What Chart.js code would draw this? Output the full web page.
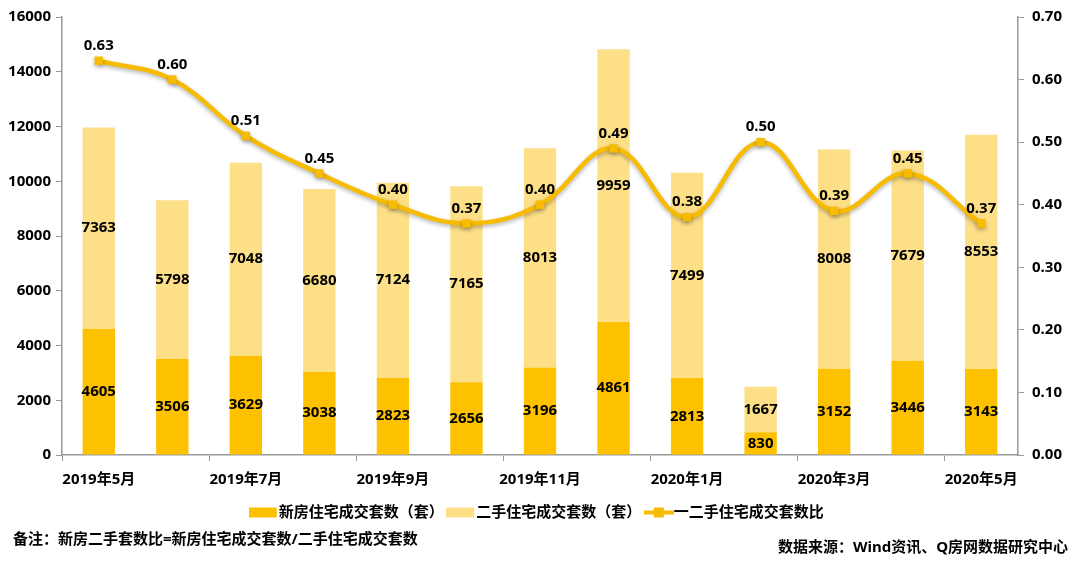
<!DOCTYPE html>
<html>
<head>
<meta charset="utf-8">
<script src="https://cdn.jsdelivr.net/npm/chart.js@4.4.0/dist/chart.umd.min.js"></script>
<style>
body { margin: 0; background: #fff; }
#wrap { position: relative; width: 1080px; height: 561px; }
.note { position: absolute; font: bold 15px "Noto Sans", "Noto Sans CJK SC"; color: #000; white-space: nowrap; }
</style>
</head>
<body>
<div id="wrap">
  <canvas id="c" width="1080" height="561"></canvas>
  <div class="note" style="left:13px;top:527px">备注：新房二手套数比=新房住宅成交套数/二手住宅成交套数</div>
  <div class="note" style="right:12px;top:535px">数据来源：Wind资讯、Q房网数据研究中心</div>
</div>
<script>
// months, 2019-05 .. 2020-05
const months = ['2019年5月', '2019年6月', '2019年7月', '2019年8月', '2019年9月', '2019年10月',
    '2019年11月', '2019年12月', '2020年1月', '2020年2月', '2020年3月', '2020年4月', '2020年5月'];
const newHomes = [4605, 3506, 3629, 3038, 2823, 2656, 3196, 4861, 2813, 830, 3152, 3446, 3143];
const resale = [7363, 5798, 7048, 6680, 7124, 7165, 8013, 9959, 7499, 1667, 8008, 7679, 8553];
const ratio = [0.63, 0.60, 0.51, 0.45, 0.40, 0.37, 0.40, 0.49, 0.38, 0.50, 0.39, 0.45, 0.37];

const DARK = '#FDC100';
const LIGHT = '#FDDF88';
const LINE = '#F7BB00';
const AXIS = '#9a9a9a';
const FONT = '"Noto Sans", "Noto Sans CJK SC"';

// legend swatches
function swatch(draw) {
    const c = document.createElement('canvas');
    c.width = 30; c.height = 12;
    draw(c.getContext('2d'));
    return c;
}
const swDark = swatch(g => { g.fillStyle = DARK; g.fillRect(0, 1, 28, 10); });
const swLight = swatch(g => { g.fillStyle = LIGHT; g.fillRect(0, 1, 28, 10); });
const swLine = swatch(g => {
    g.strokeStyle = LINE; g.lineWidth = 4;
    g.beginPath(); g.moveTo(0, 6); g.lineTo(30, 6); g.stroke();
    g.fillStyle = LINE; g.fillRect(10, 1, 10, 10);
});

// line shadow
const shadowPlugin = {
    id: 'lineShadow',
    beforeDatasetDraw(chart, args) {
        if (args.index !== 2) return;
        const ctx = chart.ctx;
        ctx.save();
        ctx.shadowColor = 'rgba(0,0,0,0.3)';
        ctx.shadowBlur = 4;
        ctx.shadowOffsetY = 2;
    },
    afterDatasetDraw(chart, args) {
        if (args.index === 2) chart.ctx.restore();
    }
};

// value labels
const labelPlugin = {
    id: 'valueLabels',
    afterDatasetsDraw(chart) {
        const ctx = chart.ctx;
        ctx.save();
        ctx.font = 'bold 15px ' + FONT;
        ctx.fillStyle = '#000';
        ctx.textAlign = 'center';
        ctx.textBaseline = 'middle';
        [0, 1].forEach(di => {
            chart.getDatasetMeta(di).data.forEach((el, i) => {
                const p = el.getProps(['x', 'y', 'base'], true);
                ctx.fillText(chart.data.datasets[di].data[i], p.x, (p.y + p.base) / 2);
            });
        });
        chart.getDatasetMeta(2).data.forEach((el, i) => {
            const p = el.getProps(['x', 'y'], true);
            ctx.fillText(ratio[i].toFixed(2), p.x, p.y - 15);
        });
        ctx.restore();
    }
};

const tickFont = { family: FONT, size: 15, weight: 'bold' };

new Chart(document.getElementById('c'), {
    data: {
        labels: months,
        datasets: [
            {
                type: 'bar', label: '新房住宅成交套数（套）', data: newHomes,
                backgroundColor: DARK, yAxisID: 'y', stack: 's',
                categoryPercentage: 1, barPercentage: 0.44
            },
            {
                type: 'bar', label: '二手住宅成交套数（套）', data: resale,
                backgroundColor: LIGHT, yAxisID: 'y', stack: 's',
                categoryPercentage: 1, barPercentage: 0.44
            },
            {
                type: 'line', label: '一二手住宅成交套数比', data: ratio,
                borderColor: LINE, backgroundColor: LINE, borderWidth: 4.5,
                pointStyle: 'rect', pointRadius: 6, pointBorderWidth: 0, pointBackgroundColor: LINE,
                tension: 0.4, yAxisID: 'y1', order: -1
            }
        ]
    },
    options: {
        responsive: false,
        animation: false,
        layout: { padding: { top: 12, bottom: 31, left: 0, right: 0 } },
        scales: {
            x: {
                grid: {
                    drawOnChartArea: false, tickLength: 6,
                    tickColor: c => (c.index % 2 === 0 ? AXIS : 'rgba(0,0,0,0)')
                },
                border: { color: AXIS, width: 1.5 },
                ticks: {
                    autoSkip: false, maxRotation: 0, padding: 10,
                    color: '#000', font: tickFont,
                    callback: (v, i) => (i % 2 === 0 ? months[i] : '')
                },
                afterFit: s => { s.height = 40; }
            },
            y: {
                position: 'left', min: 0, max: 16000,
                grid: { drawOnChartArea: false, tickLength: 6, tickColor: AXIS },
                border: { color: AXIS, width: 1.5 },
                ticks: {
                    stepSize: 2000, padding: 5, color: '#000', font: tickFont,
                    callback: v => String(v)
                },
                afterFit: s => { s.width = 62; }
            },
            y1: {
                position: 'right', min: 0, max: 0.7,
                grid: { drawOnChartArea: false, tickLength: 6, tickColor: AXIS },
                border: { color: AXIS, width: 1.5 },
                ticks: {
                    stepSize: 0.1, padding: 8, color: '#000', font: tickFont,
                    callback: v => v.toFixed(2)
                },
                afterFit: s => { s.width = 62; }
            }
        },
        plugins: {
            legend: {
                position: 'bottom',
                labels: {
                    usePointStyle: true,
                    color: '#000',
                    font: { family: FONT, size: 15, weight: 'bold' },
                    padding: 10,
                    sort: (a, b) => a.datasetIndex - b.datasetIndex,
                    generateLabels: chart => chart.data.datasets.map((d, i) => ({
                        text: d.label,
                        pointStyle: [swDark, swLight, swLine][i],
                        datasetIndex: i,
                        fontColor: '#000',
                        hidden: false
                    }))
                }
            },
            tooltip: { enabled: false }
        }
    },
    plugins: [shadowPlugin, labelPlugin]
});
</script>
</body>
</html>
